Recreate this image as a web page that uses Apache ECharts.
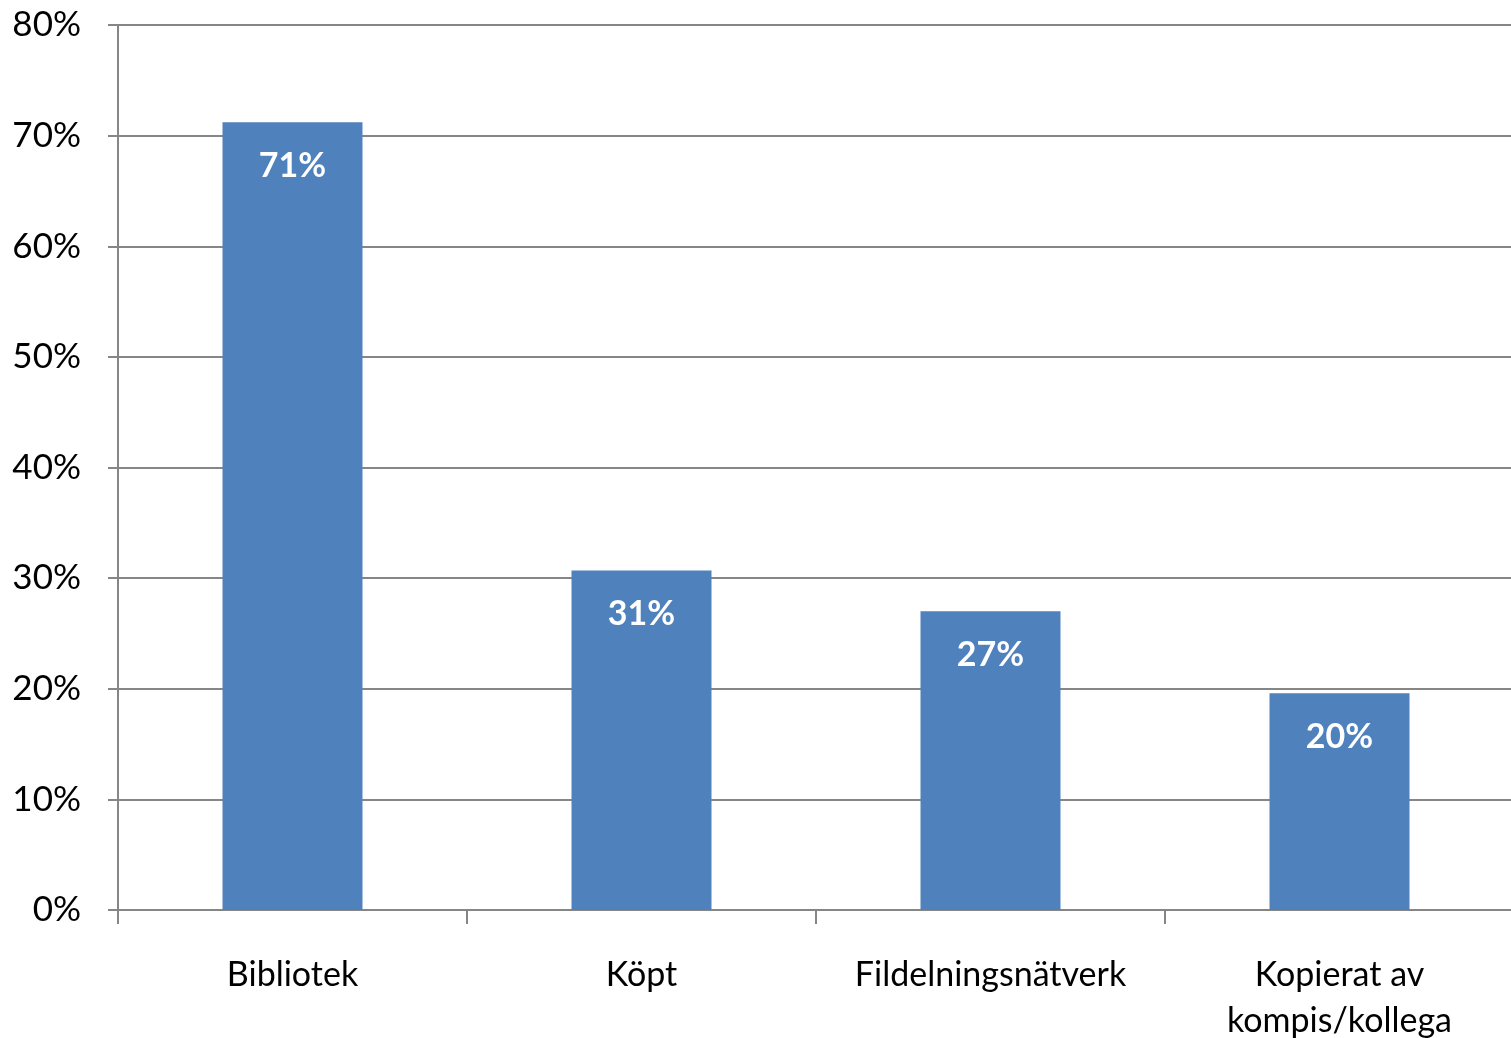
<!DOCTYPE html>
<html>
<head>
<meta charset="UTF-8" />
<title>Källor</title>
<script src="https://cdn.jsdelivr.net/npm/echarts@6/dist/echarts.min.js"></script>
<style>
  html, body { margin: 0; padding: 0; background: #fff; }
  #chart { width: 1511px; height: 1038px; }
</style>
</head>
<body>
<div id="chart"></div>
<script>
// data
var categories = ['Bibliotek', 'Köpt', 'Fildelningsnätverk', 'Kopierat av\nkompis/kollega'];
var shares = [71.2, 30.7, 27.0, 19.6];
var yTicks = [0, 10, 20, 30, 40, 50, 60, 70, 80];

var grey = '#868686';
var font = 'Lato, "Open Sans", sans-serif';

var myChart = echarts.init(document.getElementById('chart'));
myChart.setOption({
  animation: false,
  grid: { left: 118, top: 25, width: 1396, height: 885, outerBoundsMode: 'none', containLabel: false },
  xAxis: {
    type: 'category',
    data: categories,
    axisLine: { lineStyle: { color: grey, width: 2 } },
    axisTick: { show: true, length: 14, lineStyle: { color: grey, width: 2 } },
    axisLabel: {
      color: '#000', fontSize: 34, fontFamily: font,
      margin: 42, lineHeight: 46, interval: 0
    }
  },
  yAxis: {
    type: 'value',
    min: yTicks[0],
    max: yTicks[yTicks.length - 1],
    interval: 10,
    axisLine: { show: true, lineStyle: { color: grey, width: 2 } },
    axisTick: { show: true, length: 10, lineStyle: { color: grey, width: 2 } },
    splitLine: { show: true, lineStyle: { color: grey, width: 2 } },
    axisLabel: {
      color: '#000', fontSize: 35, fontFamily: font, margin: 37,
      formatter: function (v) { return v + '%'; }
    }
  },
  series: [{
    type: 'bar',
    data: shares,
    barWidth: 140,
    itemStyle: { color: '#4F81BD' },
    label: {
      show: true,
      position: 'insideTop',
      distance: 27,
      color: '#fff',
      fontWeight: 'bold',
      fontSize: 34,
      fontFamily: font,
      formatter: function (p) { return Math.round(p.value) + '%'; }
    }
  }]
});
</script>
</body>
</html>
